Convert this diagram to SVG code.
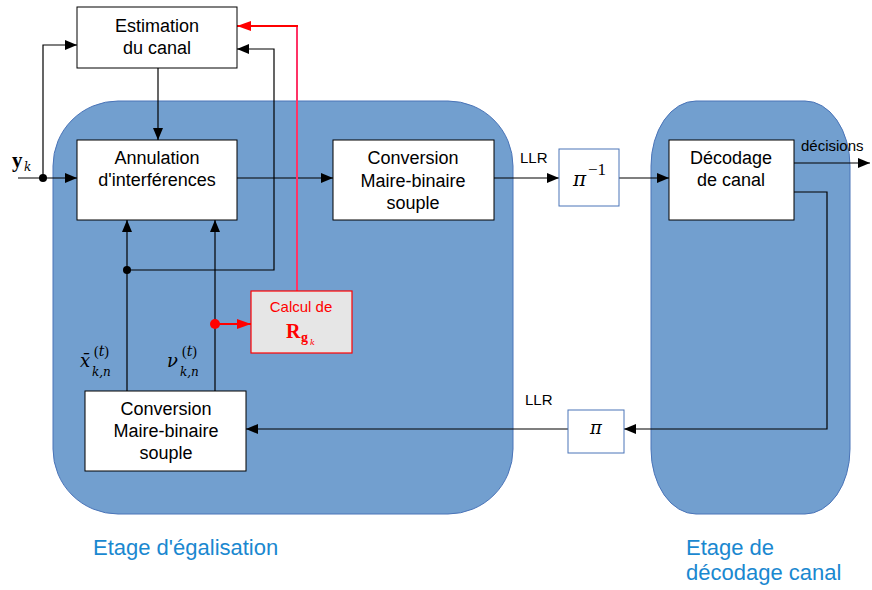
<svg xmlns="http://www.w3.org/2000/svg" width="872" height="590" viewBox="0 0 872 590">
<style>
.box{fill:#fff;stroke:#000;stroke-width:1}
.t{font-family:"Liberation Sans",Arial,sans-serif;font-size:18px;fill:#000;text-anchor:middle}
.s{font-family:"Liberation Sans",Arial,sans-serif;font-size:15px;fill:#000}
.m{font-family:"Liberation Serif","Times New Roman",serif;fill:#000}
.mi{font-family:"DejaVu Serif","Liberation Serif",serif;font-style:italic;fill:#000}
.ln{fill:none;stroke:#000;stroke-width:1.2}
.red{fill:none;stroke:#f00;stroke-width:2}
.stage{fill:#729fcf;stroke:#4a74b8;stroke-width:1}
.lab{font-family:"Liberation Sans",Arial,sans-serif;font-size:22px;fill:#1a88d0}
</style>
<defs>
<marker id="a" markerWidth="12" markerHeight="10" refX="12" refY="5" orient="auto" markerUnits="userSpaceOnUse"><path d="M0,0 L12,5 L0,10 Z" fill="#000"/></marker>
<marker id="ar" markerWidth="14" markerHeight="10" refX="14" refY="5" orient="auto" markerUnits="userSpaceOnUse"><path d="M0,0 L14,5 L0,10 Z" fill="#f00"/></marker>
</defs>
<rect width="872" height="590" fill="#fff"/>
<g id="stage-egal"><rect class="stage" x="53" y="101" width="460" height="413" rx="65" ry="65"/></g>
<g id="stage-dec"><rect class="stage" x="651" y="101" width="199" height="413" rx="45" ry="65"/></g>

<g id="connectors">
<path class="ln" d="M18,178 H77" marker-end="url(#a)"/>
<path class="ln" d="M43,178 V45 H77" marker-end="url(#a)"/>
<circle cx="43" cy="178" r="4" fill="#000"/>
<path class="ln" d="M158,68 V140" marker-end="url(#a)"/>
<path class="ln" d="M237,178 H333" marker-end="url(#a)"/>
<path class="ln" d="M494,178 H559" marker-end="url(#a)"/>
<path class="ln" d="M619,178 H669" marker-end="url(#a)"/>
<path class="ln" d="M794,163 H870" marker-end="url(#a)"/>
<path class="ln" d="M794,192 H827 V429 H624" marker-end="url(#a)"/>
<path class="ln" d="M568,429 H246" marker-end="url(#a)"/>
<path class="ln" d="M127,391 V220" marker-end="url(#a)"/>
<path class="ln" d="M215,391 V220" marker-end="url(#a)"/>
<path class="ln" d="M127,270 H274 V49 H237" marker-end="url(#a)"/>
<circle cx="127" cy="270" r="4" fill="#000"/>
<path class="red" d="M215,324 H251" marker-end="url(#ar)"/>
<circle cx="215" cy="324" r="5" fill="#f00"/>
<path fill="none" stroke="#ff3366" stroke-width="2" d="M297,291 V26"/>
<path class="red" d="M298,26 H237" marker-end="url(#ar)"/>
</g>

<g id="estimation"><rect class="box" x="77" y="7" width="160" height="61"/>
<text class="t" x="157" y="32">Estimation</text><text class="t" x="157" y="54">du canal</text></g>
<g id="annulation"><rect class="box" x="77" y="140" width="160" height="80"/>
<text class="t" x="157" y="164">Annulation</text><text class="t" x="157" y="186">d'interférences</text></g>
<g id="conv-top"><rect class="box" x="333" y="140" width="161" height="80"/>
<text class="t" x="413" y="164">Conversion</text><text class="t" x="413" y="187">Maire-binaire</text><text class="t" x="413" y="209">souple</text></g>
<g id="pi-inv"><rect x="559" y="149" width="60" height="57" fill="#fff" stroke="#4a74b8" stroke-width="1"/>
<text class="mi" x="573" y="186" font-size="20">π</text><text class="m" x="588" y="175" font-size="17">−1</text></g>
<g id="decodage"><rect class="box" x="669" y="140" width="125" height="80"/>
<text class="t" x="731" y="164">Décodage</text><text class="t" x="731" y="186">de canal</text></g>
<g id="pi"><rect x="568" y="410" width="56" height="43" fill="#fff" stroke="#4a74b8" stroke-width="1"/>
<text class="mi" x="596" y="434" font-size="18" text-anchor="middle">π</text></g>
<g id="conv-bot"><rect class="box" x="85" y="391" width="161" height="80"/>
<text class="t" x="166" y="415">Conversion</text><text class="t" x="166" y="437">Maire-binaire</text><text class="t" x="166" y="459">souple</text></g>
<g id="calcul"><rect x="251" y="291" width="101" height="62" fill="#e6e6e6" stroke="#f00" stroke-width="1.2"/>
<text x="301" y="312" font-family="Liberation Sans,Arial,sans-serif" font-size="15" fill="#f00" text-anchor="middle">Calcul de</text>
<text class="m" x="286" y="338" font-size="20" font-weight="bold" style="fill:#f00">R</text>
<text class="m" x="301" y="342" font-size="14" font-weight="bold" style="fill:#f00">g</text>
<text class="mi" x="310" y="345" font-size="8" style="fill:#f00">k</text></g>

<g id="labels">
<text class="m" x="12" y="167" font-size="21" font-weight="bold">y</text><text class="mi" x="24" y="171" font-size="12">k</text>
<text class="s" x="520" y="163">LLR</text>
<text class="s" x="525" y="405">LLR</text>
<text class="s" x="801" y="151">décisions</text>
<text class="mi" x="80" y="367" font-size="18">x̄</text>
<text class="m" x="94" y="356" font-size="14">(<tspan class="mi">t</tspan>)</text>
<text class="mi" x="92" y="376" font-size="12">k,n</text>
<text class="mi" x="167" y="367" font-size="18">ν</text>
<text class="m" x="182" y="356" font-size="14">(<tspan class="mi">t</tspan>)</text>
<text class="mi" x="180" y="376" font-size="12">k,n</text>
<text class="lab" x="93" y="555">Etage d'égalisation</text>
<text class="lab" x="686" y="555">Etage de</text>
<text class="lab" x="686" y="580">décodage canal</text>
</g>
</svg>
